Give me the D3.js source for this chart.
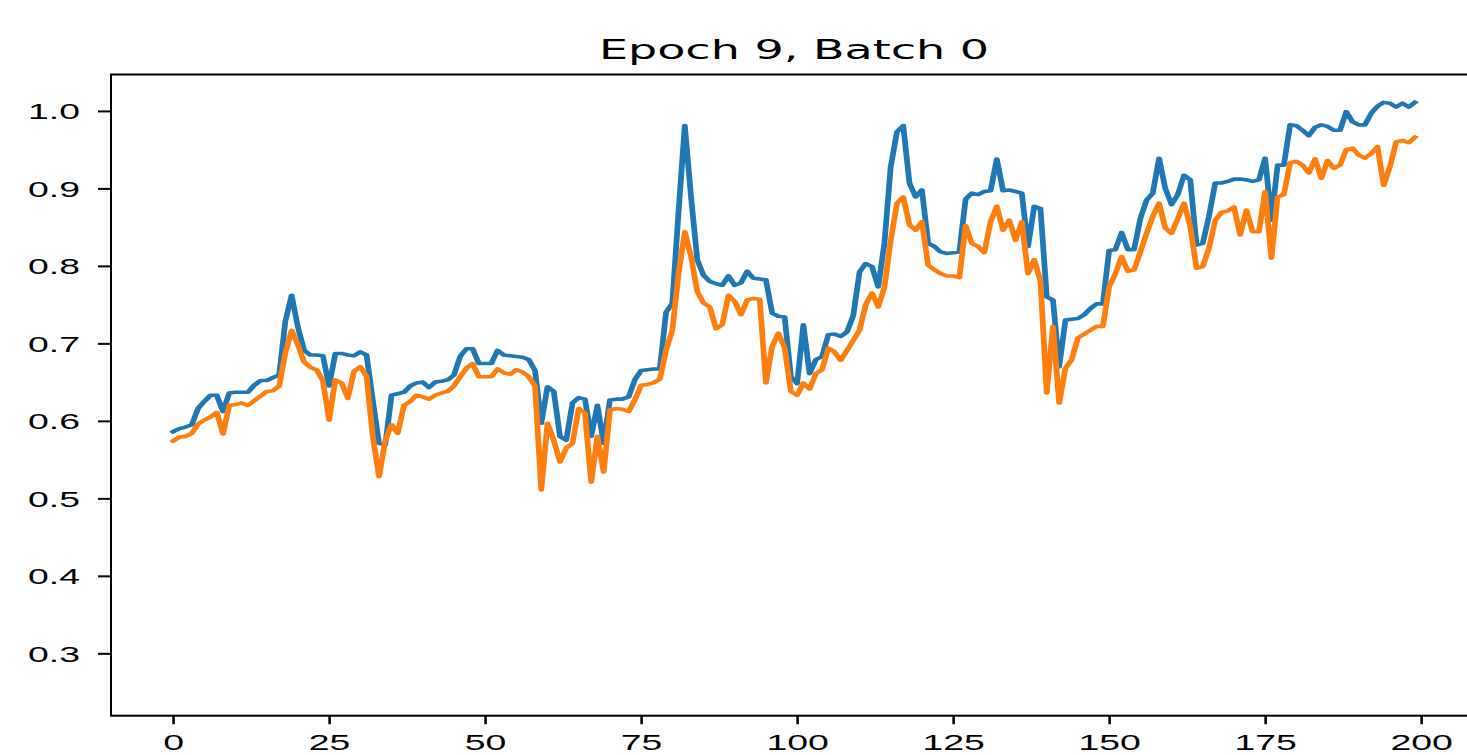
<!DOCTYPE html>
<html>
<head>
<meta charset="utf-8">
<script src="https://cdn.jsdelivr.net/npm/d3@7"></script>
<style>
  body { margin: 0; background: #fff; }
  svg { display: block; }
</style>
</head>
<body>
<div id="chart"></div>
<script>
// data
var chartTitle = "Epoch 9, Batch 0";

var blueSeries = [
  0.586, 0.590, 0.592, 0.595, 0.616, 0.625, 0.633, 0.633, 0.612, 0.636,
  0.637, 0.637, 0.637, 0.646, 0.652, 0.652, 0.656, 0.659, 0.729, 0.762,
  0.721, 0.691, 0.685, 0.685, 0.684, 0.645, 0.687, 0.687, 0.685, 0.684,
  0.689, 0.685, 0.627, 0.571, 0.569, 0.633, 0.635, 0.637, 0.645, 0.649,
  0.650, 0.643, 0.650, 0.651, 0.653, 0.659, 0.683, 0.693, 0.693, 0.674,
  0.674, 0.674, 0.691, 0.685, 0.684, 0.683, 0.682, 0.679, 0.665, 0.597,
  0.644, 0.638, 0.580, 0.575, 0.623, 0.630, 0.628, 0.580, 0.620, 0.571,
  0.627, 0.628, 0.628, 0.631, 0.653, 0.665, 0.666, 0.667, 0.667, 0.740,
  0.752, 0.870, 0.981, 0.889, 0.808, 0.788, 0.780, 0.777, 0.775, 0.787,
  0.775, 0.778, 0.793, 0.784, 0.783, 0.782, 0.739, 0.735, 0.734, 0.657,
  0.648, 0.724, 0.661, 0.679, 0.683, 0.711, 0.712, 0.709, 0.715, 0.736,
  0.792, 0.803, 0.799, 0.773, 0.830, 0.928, 0.973, 0.981, 0.907, 0.889,
  0.898, 0.829, 0.825, 0.818, 0.816, 0.817, 0.818, 0.886, 0.894, 0.892,
  0.896, 0.897, 0.938, 0.897, 0.898, 0.896, 0.894, 0.825, 0.877, 0.874,
  0.760, 0.756, 0.670, 0.730, 0.731, 0.732, 0.737, 0.745, 0.751, 0.751,
  0.820, 0.821, 0.843, 0.821, 0.821, 0.861, 0.885, 0.894, 0.939, 0.900,
  0.879, 0.892, 0.917, 0.911, 0.827, 0.829, 0.864, 0.907, 0.907, 0.909,
  0.912, 0.912, 0.911, 0.909, 0.911, 0.939, 0.859, 0.930, 0.930, 0.982,
  0.981, 0.975, 0.968, 0.979, 0.982, 0.980, 0.975, 0.975, 0.999, 0.986,
  0.982, 0.982, 0.997, 1.006, 1.011, 1.010, 1.005, 1.010, 1.005, 1.011
];

var orangeSeries = [
  0.574, 0.579, 0.580, 0.584, 0.596, 0.601, 0.605, 0.611, 0.583, 0.620,
  0.621, 0.623, 0.620, 0.626, 0.632, 0.638, 0.639, 0.645, 0.688, 0.717,
  0.698, 0.676, 0.669, 0.666, 0.652, 0.601, 0.653, 0.649, 0.629, 0.664,
  0.670, 0.657, 0.580, 0.528, 0.575, 0.595, 0.584, 0.620, 0.625, 0.633,
  0.631, 0.628, 0.633, 0.636, 0.638, 0.645, 0.657, 0.668, 0.674, 0.657,
  0.657, 0.657, 0.667, 0.662, 0.660, 0.666, 0.663, 0.657, 0.645, 0.511,
  0.597, 0.575, 0.547, 0.565, 0.571, 0.616, 0.610, 0.521, 0.580, 0.534,
  0.614, 0.616, 0.615, 0.612, 0.627, 0.646, 0.647, 0.649, 0.654, 0.691,
  0.717, 0.790, 0.844, 0.812, 0.767, 0.752, 0.747, 0.719, 0.724, 0.762,
  0.754, 0.737, 0.756, 0.758, 0.757, 0.649, 0.696, 0.713, 0.694, 0.638,
  0.633, 0.649, 0.641, 0.661, 0.666, 0.694, 0.689, 0.678, 0.691, 0.704,
  0.717, 0.750, 0.765, 0.747, 0.773, 0.833, 0.881, 0.889, 0.853, 0.846,
  0.857, 0.801, 0.795, 0.790, 0.787, 0.787, 0.785, 0.852, 0.829, 0.825,
  0.817, 0.857, 0.877, 0.846, 0.859, 0.833, 0.857, 0.790, 0.808, 0.780,
  0.636, 0.722, 0.623, 0.668, 0.679, 0.707, 0.712, 0.717, 0.722, 0.722,
  0.773, 0.790, 0.812, 0.793, 0.795, 0.818, 0.842, 0.864, 0.881, 0.849,
  0.842, 0.861, 0.881, 0.851, 0.797, 0.799, 0.823, 0.859, 0.869, 0.871,
  0.876, 0.840, 0.872, 0.844, 0.844, 0.896, 0.810, 0.889, 0.892, 0.933,
  0.935, 0.930, 0.920, 0.938, 0.913, 0.936, 0.926, 0.930, 0.950, 0.952,
  0.943, 0.939, 0.945, 0.954, 0.904, 0.928, 0.960, 0.962, 0.959, 0.966
];

var xTicks = [0, 25, 50, 75, 100, 125, 150, 175, 200];
var yTicks = [0.3, 0.4, 0.5, 0.6, 0.7, 0.8, 0.9, 1.0];

var width = 1467;
var height = 755;

// the picture is a stretched figure: x is wider than y
var stretch = 1.6;
var textStretch = "scale(1.7,1)";

var plot = {left: 111, right: 1477, top: 74.5, bottom: 715.7};

var x = d3.scaleLinear()
  .domain([-9.95, 208.95])
  .range([plot.left, plot.right]);

var y = d3.scaleLinear()
  .domain([0.2195, 1.047])
  .range([plot.bottom, plot.top]);

var svg = d3.select("#chart")
  .append("svg")
  .attr("width", width)
  .attr("height", height)
  .style("font-family", "DejaVu Sans");

// lines, drawn in a squeezed space and stretched back so strokes look like the reference
var xs = x.copy().range([plot.left / stretch, plot.right / stretch]);

var line = d3.line()
  .x(function(d, i) { return xs(i); })
  .y(function(d) { return y(d); });

var lines = svg.append("g")
  .attr("transform", "scale(" + stretch + ",1)");

[[blueSeries, "#1f77b4"], [orangeSeries, "#ff7f0e"]].forEach(function(s) {
  lines.append("path")
    .datum(s[0])
    .attr("fill", "none")
    .attr("stroke", s[1])
    .attr("stroke-width", 3.6)
    .attr("stroke-linejoin", "round")
    .attr("stroke-linecap", "square")
    .attr("d", line);
});

// y axis
var yAxis = svg.append("g")
  .attr("transform", "translate(" + plot.left + ",0)")
  .call(d3.axisLeft(y).tickValues(yTicks).tickFormat(d3.format(".1f")).tickSize(13).tickSizeOuter(0));

yAxis.select(".domain").remove();
yAxis.selectAll("line").attr("stroke", "#000").attr("stroke-width", 2);
yAxis.selectAll("text")
  .attr("x", null)
  .attr("dy", "0.36em")
  .attr("fill", "#000")
  .style("font-size", "22px")
  .attr("transform", "translate(-31,0) " + textStretch);

// x axis
var xAxis = svg.append("g")
  .attr("transform", "translate(0," + plot.bottom + ")")
  .call(d3.axisBottom(x).tickValues(xTicks).tickFormat(d3.format("d")).tickSize(8.5).tickSizeOuter(0));

xAxis.select(".domain").remove();
xAxis.selectAll("line").attr("stroke", "#000").attr("stroke-width", 2.6);
xAxis.selectAll("text")
  .attr("y", null)
  .attr("dy", null)
  .attr("fill", "#000")
  .style("font-size", "22px")
  .attr("transform", "translate(0,34) " + textStretch);

// frame (right side falls outside the picture)
svg.append("rect")
  .attr("x", plot.left)
  .attr("y", plot.top)
  .attr("width", plot.right - plot.left)
  .attr("height", plot.bottom - plot.top)
  .attr("fill", "none")
  .attr("stroke", "#000")
  .attr("stroke-width", 2);

// title
svg.append("text")
  .attr("text-anchor", "middle")
  .attr("transform", "translate(" + (plot.left + plot.right) / 2 + ",59) scale(1.77,1)")
  .style("font-size", "26px")
  .attr("fill", "#000")
  .text(chartTitle);
</script>
</body>
</html>
